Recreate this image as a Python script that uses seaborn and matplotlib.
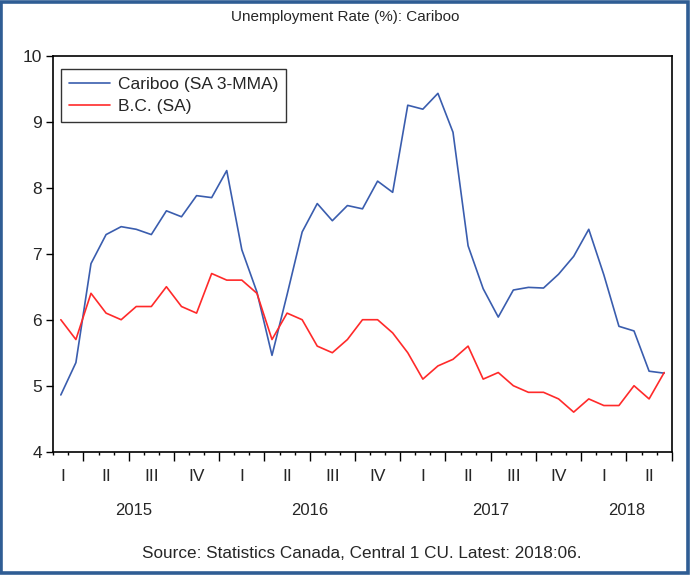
import matplotlib
matplotlib.use("Agg")
import matplotlib.pyplot as plt
import matplotlib.transforms as mtransforms
from matplotlib.patches import Rectangle
import pandas as pd
import seaborn as sns

# monthly, Feb 2015 .. Jun 2018
cariboo = [4.86, 5.35, 6.85, 7.29, 7.41, 7.37, 7.29, 7.65, 7.56, 7.88,
           7.85, 8.26, 7.06, 6.42, 5.46, 6.38, 7.33, 7.76, 7.50, 7.73,
           7.68, 8.10, 7.93, 9.25, 9.19, 9.43, 8.84, 7.12, 6.47, 6.04,
           6.45, 6.49, 6.48, 6.69, 6.96, 7.37, 6.68, 5.90, 5.83, 5.22, 5.19]
bc = [6.0, 5.7, 6.4, 6.1, 6.0, 6.2, 6.2, 6.5, 6.2, 6.1,
      6.7, 6.6, 6.6, 6.4, 5.7, 6.1, 6.0, 5.6, 5.5, 5.7,
      6.0, 6.0, 5.8, 5.5, 5.1, 5.3, 5.4, 5.6, 5.1, 5.2,
      5.0, 4.9, 4.9, 4.8, 4.6, 4.8, 4.7, 4.7, 5.0, 4.8, 5.2]
series_names = ["Cariboo (SA 3-MMA)", "B.C. (SA)"]
quarter_labels = ["I", "II", "III", "IV", "I", "II", "III", "IV",
                  "I", "II", "III", "IV", "I", "II"]
years = ["2015", "2016", "2017", "2018"]
year_pos = [5.3, 17.0, 29.0, 38.0]

n = len(cariboo)
df = pd.DataFrame({
    "month": list(range(n)) * 2,
    "rate": cariboo + bc,
    "series": [series_names[0]] * n + [series_names[1]] * n,
})
df["x"] = df["month"] + 0.5

sns.set_style("ticks")
plt.rcParams["font.family"] = ["Liberation Sans", "DejaVu Sans"]

fig = plt.figure(figsize=(6.91, 5.75), dpi=100)
ax = fig.add_axes([0.0771, 0.2144, 0.8950, 0.6887])

sns.lineplot(data=df, x="x", y="rate", hue="series",
             palette=["#3a5dae", "#ff2a2a"], linewidth=1.2, ax=ax)

ax.set_xlim(0, n)
ax.set_ylim(4, 10)
ax.set_xlabel("")
ax.set_ylabel("")

# month boundaries as minor ticks, quarter boundaries as major ticks
ax.set_xticks(list(range(2, n + 1, 3)))
ax.set_xticks(list(range(0, n + 1)), minor=True)
ax.set_xticklabels([])
ax.tick_params(axis="x", which="major", length=6.5, width=1, color="black")
ax.tick_params(axis="x", which="minor", length=2.5, width=1, color="black")
ax.set_yticks([4, 5, 6, 7, 8, 9, 10])
ax.tick_params(axis="y", length=5, width=1, pad=3, labelsize=12.5, color="black")
for s in ax.spines.values():
    s.set_color("black")
    s.set_linewidth(1.2)

trans = mtransforms.blended_transform_factory(ax.transData, ax.transAxes)
q_pos = [0.65] + [2 + 1.5 + 3 * k for k in range(len(quarter_labels) - 1)]
for p, lab in zip(q_pos, quarter_labels):
    ax.text(p, -0.062, lab, transform=trans, ha="center", va="center", fontsize=12.5)
for p, lab in zip(year_pos, years):
    ax.text(p, -0.148, lab, transform=trans, ha="center", va="center", fontsize=12)

leg = ax.legend(loc="upper left", bbox_to_anchor=(0.012, 0.966), fontsize=12.5,
                frameon=True, fancybox=False, edgecolor="black",
                handlelength=2.4, borderpad=0.45, labelspacing=0.4,
                handletextpad=0.45, borderaxespad=0)
leg.get_frame().set_linewidth(1.0)
for h in leg.get_lines():
    h.set_linewidth(1.2)

fig.text(0.5, 0.970, "Unemployment Rate (%): Cariboo", ha="center", va="center", fontsize=11)
fig.text(0.523, 0.038, "Source: Statistics Canada, Central 1 CU. Latest: 2018:06.",
         ha="center", va="center", fontsize=12.3)

fig.patches.append(Rectangle((0.002, 0.004), 0.994, 0.993, transform=fig.transFigure,
                             fill=False, edgecolor="#2f5d94", linewidth=2.6))

fig.savefig("out.png", dpi=100)
